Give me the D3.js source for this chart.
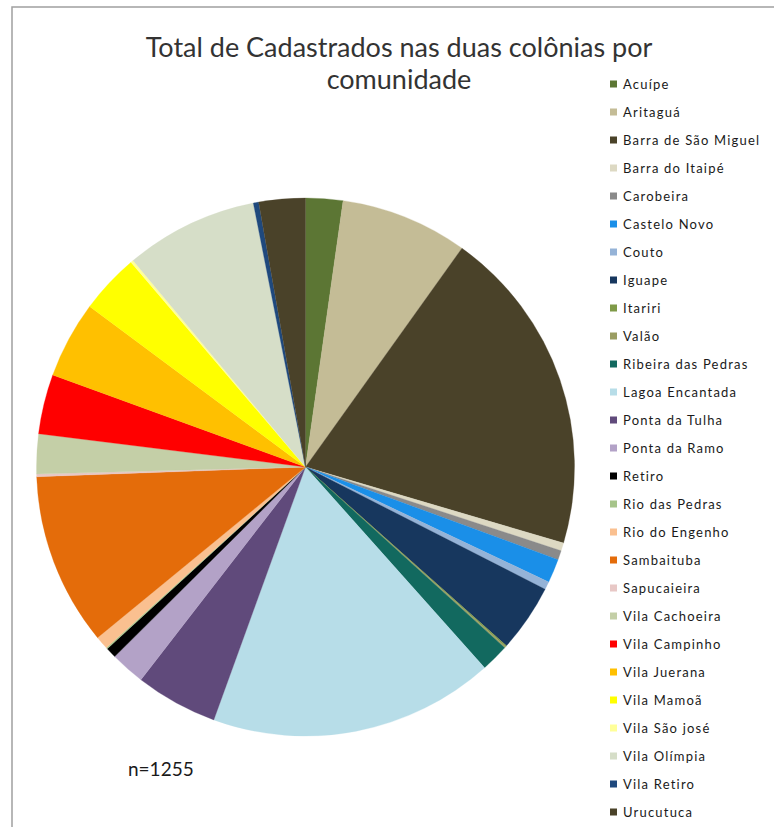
<!DOCTYPE html>
<html>
<head>
<meta charset="utf-8">
<script src="https://cdn.jsdelivr.net/npm/d3@7"></script>
<style>
  html, body { margin: 0; padding: 0; background: #ffffff; }
  svg { display: block; }
</style>
</head>
<body>
<svg id="chart" width="774" height="827"></svg>
<script>
// Communities, in drawing order (clockwise from 12 o'clock)
const communities = [
  "Acuípe", "Aritaguá", "Barra de São Miguel", "Barra do Itaipé", "Carobeira",
  "Castelo Novo", "Couto", "Iguape", "Itariri", "Valão",
  "Ribeira das Pedras", "Lagoa Encantada", "Ponta da Tulha", "Ponta da Ramo", "Retiro",
  "Rio das Pedras", "Rio do Engenho", "Sambaituba", "Sapucaieira", "Vila Cachoeira",
  "Vila Campinho", "Vila Juerana", "Vila Mamoã", "Vila São josé", "Vila Olímpia",
  "Vila Retiro", "Urucutuca"
];

// Registered people per community (total n = 1255)
const registered = [
  28, 96, 247, 6, 7,
  18, 6, 51, 1, 1,
  21, 215, 62, 26, 8,
  1, 10, 130, 2, 30,
  45, 58, 45, 2, 100,
  4, 35
];

const sliceColors = [
  "#5c7634", "#c4bc96", "#4a4229", "#ddd9c3", "#8a8a8a",
  "#1a8fe8", "#95b3d7", "#17375e", "#7f9a48", "#9a9d62",
  "#12695f", "#b7dde8", "#604a7b", "#b3a2c7", "#000000",
  "#a6c48a", "#fac090", "#e46c0a", "#e8c8c6", "#c4cfa7",
  "#ff0000", "#ffc000", "#ffff00", "#ffff99", "#d6dec8",
  "#1f497d", "#4a4229"
];

const titleLines = ["Total de Cadastrados nas duas colônias por", "comunidade"];
const sampleLabel = "n=1255";

const svg = d3.select("#chart");

// Chart frame
svg.append("rect")
  .attr("x", 12).attr("y", 7)
  .attr("width", 800).attr("height", 860)
  .attr("fill", "#ffffff")
  .attr("stroke", "#a0a0a0")
  .attr("stroke-width", 1.5);

// Title
svg.append("g")
  .selectAll("text")
  .data(titleLines)
  .join("text")
  .attr("x", 399)
  .attr("y", (d, i) => 57 + i * 32)
  .attr("text-anchor", "middle")
  .attr("font-family", "Lato, 'Open Sans', sans-serif")
  .attr("font-size", 27)
  .attr("fill", "#333333")
  .text(d => d);

// Pie
const cx = 305.5, cy = 467, radius = 269;
const color = d3.scaleOrdinal().domain(communities).range(sliceColors);
const pie = d3.pie().sort(null).value(d => d.value);
const arc = d3.arc().innerRadius(0).outerRadius(radius);
const data = communities.map((c, i) => ({ name: c, value: registered[i] }));

svg.append("g")
  .attr("transform", `translate(${cx},${cy})`)
  .selectAll("path")
  .data(pie(data))
  .join("path")
  .attr("d", arc)
  .attr("fill", d => color(d.data.name))
  .attr("stroke", d => color(d.data.name))
  .attr("stroke-width", 0.3);

// Sample size note
svg.append("text")
  .attr("x", 128).attr("y", 776)
  .attr("font-family", "Lato, 'Open Sans', sans-serif")
  .attr("font-size", 19)
  .attr("fill", "#1a1a1a")
  .text(sampleLabel);

// Legend
const legendY = d3.scalePoint().domain(communities).range([84, 812]);
const legend = svg.append("g")
  .selectAll("g")
  .data(communities)
  .join("g")
  .attr("transform", d => `translate(610,${legendY(d)})`);

legend.append("rect")
  .attr("x", 0).attr("y", -3.5)
  .attr("width", 7).attr("height", 7)
  .attr("fill", d => color(d));

legend.append("text")
  .attr("x", 13).attr("y", 4.5)
  .attr("font-family", "Lato, 'Open Sans', sans-serif")
  .attr("font-size", 13)
  .attr("letter-spacing", 1.2)
  .attr("fill", "#1a1a1a")
  .text(d => d);
</script>
</body>
</html>
